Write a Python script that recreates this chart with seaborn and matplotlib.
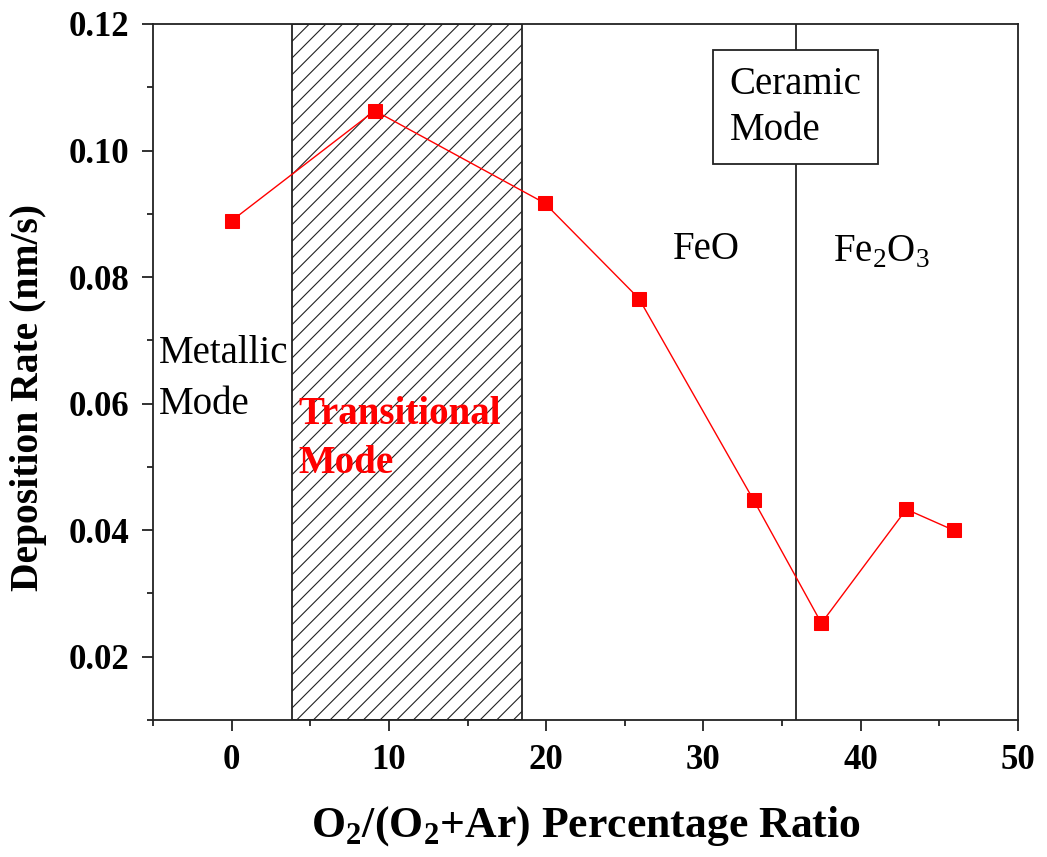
import seaborn as sns
import pandas as pd
import numpy as np
import matplotlib.pyplot as plt
from matplotlib.patches import Rectangle

# O2/(O2+Ar) ratio (%) and deposition rate (nm/s)
ratio = [0, 9.1, 19.9, 25.9, 33.2, 37.5, 42.9, 45.9]
rate = [0.0889, 0.1063, 0.0917, 0.0766, 0.0447, 0.0253, 0.0433, 0.0400]

transition_span = [3.85, 18.45]
ceramic_line = 35.9

sns.set_style('ticks')
plt.rcParams['font.family'] = ['Liberation Serif', 'DejaVu Serif']
plt.rcParams['text.color'] = 'black'
plt.rcParams['axes.labelcolor'] = 'black'
plt.rcParams['xtick.color'] = 'black'
plt.rcParams['ytick.color'] = 'black'
plt.rcParams['mathtext.fontset'] = 'custom'
plt.rcParams['mathtext.rm'] = 'Liberation Serif'
plt.rcParams['mathtext.bf'] = 'Liberation Serif:bold'
plt.rcParams['hatch.linewidth'] = 0.8
plt.rcParams['hatch.color'] = '#222222'

df = pd.DataFrame({'ratio': ratio, 'rate': rate})

fig = plt.figure(figsize=(10.47, 8.57), dpi=100)
ax = fig.add_axes([0.1461, 0.1599, 0.8262, 0.8121])

# transitional region
ax.axvspan(transition_span[0], transition_span[1], facecolor='none',
           edgecolor='#222222', hatch='//', linewidth=1.3, zorder=1)
ax.axvline(ceramic_line, color='#222222', linewidth=1.3, zorder=1)

sns.lineplot(data=df, x='ratio', y='rate', marker='s', color='red',
             markersize=9.5, markeredgecolor='red', linewidth=1, ax=ax,
             sort=False, zorder=3)

ax.set_xlim(-5, 50)
ax.set_ylim(0.01, 0.12)
ax.set_xticks(np.arange(0, 51, 10))
ax.set_xticks(np.arange(-5, 51, 5), minor=True)
ax.set_yticks([0.02, 0.04, 0.06, 0.08, 0.10, 0.12])
ax.set_yticks(np.arange(0.01, 0.121, 0.01), minor=True)
ax.set_yticklabels(['0.02', '0.04', '0.06', '0.08', '0.10', '0.12'])

for s in ax.spines.values():
    s.set_linewidth(1.3)
    s.set_color('#222222')
ax.tick_params(which='major', length=8, width=1.3, color='#222222',
               labelsize=25, pad=9)
ax.tick_params(which='minor', length=4.5, width=1.3, color='#222222')
for lab in ax.get_xticklabels() + ax.get_yticklabels():
    lab.set_fontweight('bold')

ax.set_xlabel(r'O$_\mathbf{2}$/(O$_\mathbf{2}$+Ar) Percentage Ratio',
              fontsize=31.5, fontweight='bold', labelpad=20)
ax.set_ylabel('Deposition Rate (nm/s)', fontsize=28.5, fontweight='bold')
ax.yaxis.set_label_coords(-0.1225, 0.463)

# annotations
ax.text(-4.65, 0.0639, 'Metallic\nMode', fontsize=28, va='center',
        ha='left', linespacing=1.5, zorder=4)
ax.text(4.25, 0.0544, 'Transitional\nMode', fontsize=28, va='center',
        ha='left', color='red', fontweight='bold', linespacing=1.4, zorder=4)
ax.text(30.2, 0.0843, 'FeO', fontsize=28, va='center', ha='center')
ax.text(41.3, 0.0840, r'Fe$_2$O$_3$', fontsize=28, va='center', ha='center')

ax.add_patch(Rectangle((30.63, 0.0979), 10.47, 0.0180, facecolor='white',
                       edgecolor='#222222', linewidth=1.3, zorder=2))
ax.text(31.65, 0.1068, 'Ceramic\nMode', fontsize=28, va='center',
        ha='left', linespacing=1.3, zorder=4)

plt.savefig('out.png', dpi=100)
